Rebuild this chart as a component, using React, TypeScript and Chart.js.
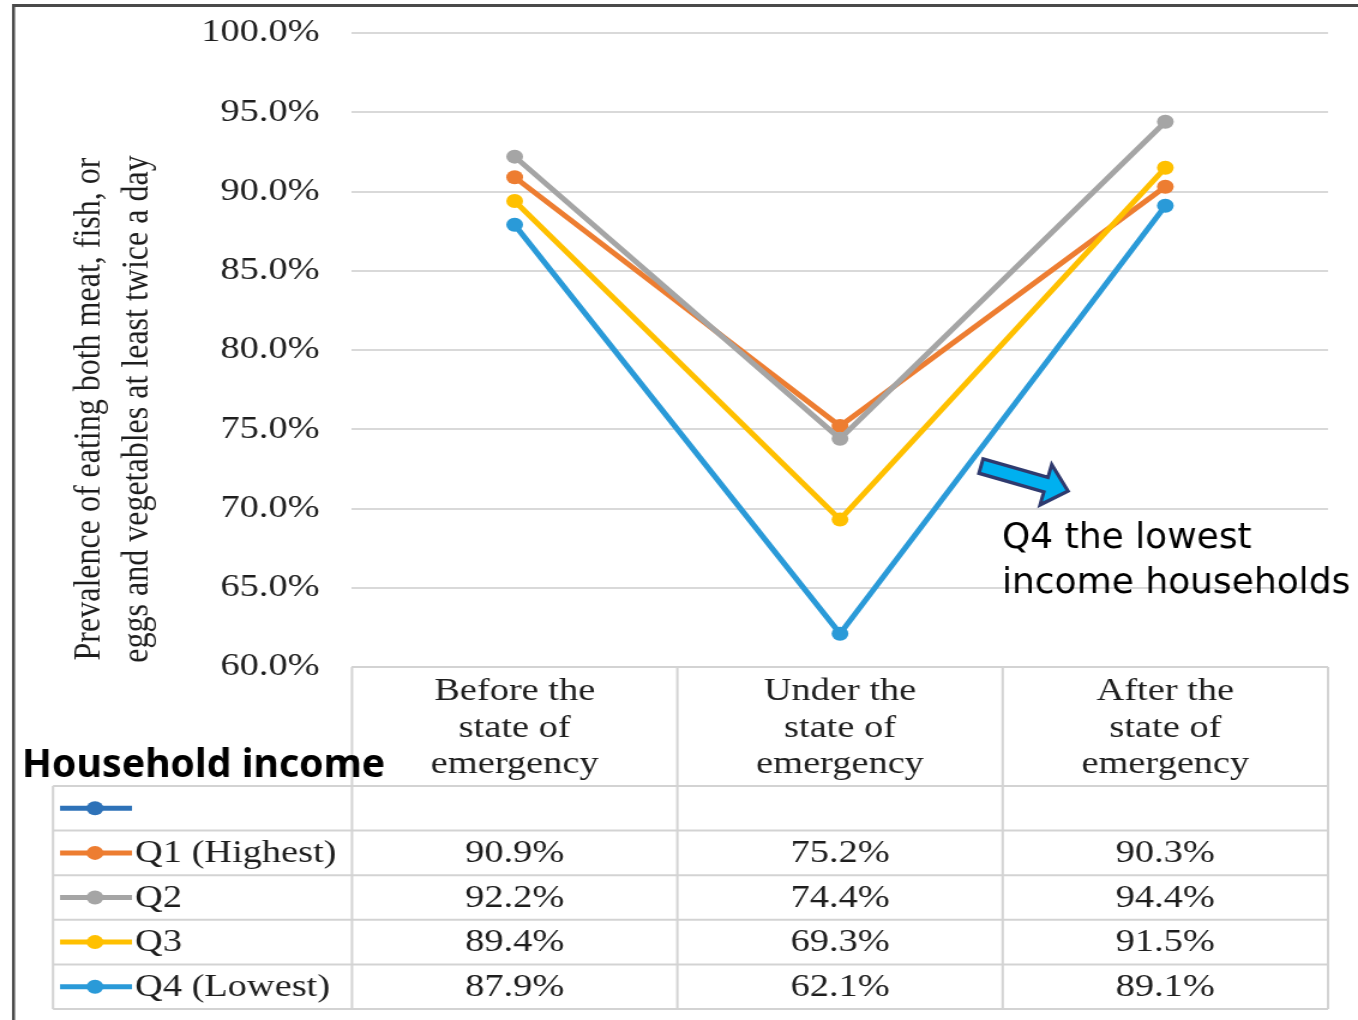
import React, { useEffect, useRef } from "react";
import { Chart, registerables } from "chart.js";

Chart.register(...registerables);

// ---------- data ----------
const categories: string[][] = [
  ["Before the", "state of", "emergency"],
  ["Under the", "state of", "emergency"],
  ["After the", "state of", "emergency"],
];
const seriesNames = ["", "Q1 (Highest)", "Q2", "Q3", "Q4 (Lowest)"];
const blankValues: (number | null)[] = [null, null, null];
const q1Values = [90.9, 75.2, 90.3];
const q2Values = [92.2, 74.4, 94.4];
const q3Values = [89.4, 69.3, 91.5];
const q4Values = [87.9, 62.1, 89.1];
const seriesValues = [blankValues, q1Values, q2Values, q3Values, q4Values];
const seriesColors = ["#2E72B8", "#ED7D31", "#A5A5A5", "#FFC000", "#2A9AD8"];
const yMin = 60;
const yMax = 100;
const yStep = 5;
const yTitleLines = [
  "Prevalence of eating both meat, fish, or",
  "eggs and vegetables at least twice a day",
];
const legendTitle = "Household income";
const noteLines = ["Q4 the lowest", "income households"];

// ---------- layout ----------
const PAGE_W = 1358;
const PAGE_H = 1020;
const CANVAS_W = 1132;
const SX = PAGE_W / CANVAS_W; // horizontal stretch of the original picture
const SERIF = "'Liberation Serif', 'Times New Roman', serif";
const TEXT = "#1e1e1e";
const PLOT_TOP = 33;
const PLOT_BOTTOM = 667;

const yTitlePlugin = {
  id: "yTitle",
  afterDraw(chart: any) {
    const ctx = chart.ctx;
    ctx.save();
    ctx.fillStyle = TEXT;
    ctx.font = `32px ${SERIF}`;
    ctx.textAlign = "center";
    ctx.textBaseline = "middle";
    const xs = [90 / SX, 138 / SX];
    yTitleLines.forEach((line, i) => {
      ctx.save();
      ctx.translate(xs[i], 409);
      ctx.rotate(-Math.PI / 2);
      ctx.fillText(line, 0, 0);
      ctx.restore();
    });
    ctx.restore();
  },
};

const tablePlugin = {
  id: "dataTable",
  afterDraw(chart: any) {
    const ctx = chart.ctx;
    const { left, right, bottom } = chart.chartArea;
    const xScale = chart.scales.x;
    const labels = chart.data.labels as string[][];
    const n = labels.length;
    const colW = (right - left) / n;
    const legendLeft = 53 / SX;
    const headerBottom = 786;
    const rowH = 44.6;
    const datasets = chart.data.datasets;
    const tableBottom = headerBottom + rowH * datasets.length;

    ctx.save();
    ctx.strokeStyle = "#d3d3d3";
    ctx.lineWidth = 2;
    ctx.beginPath();
    ctx.moveTo(left, bottom);
    ctx.lineTo(right, bottom);
    for (let r = 0; r <= datasets.length; r++) {
      const y = headerBottom + r * rowH;
      ctx.moveTo(legendLeft, y);
      ctx.lineTo(right, y);
    }
    ctx.moveTo(legendLeft, headerBottom);
    ctx.lineTo(legendLeft, tableBottom);
    for (let c = 0; c <= n; c++) {
      const x = left + c * colW;
      ctx.moveTo(x, bottom);
      ctx.lineTo(x, tableBottom);
    }
    ctx.stroke();

    // headers
    ctx.fillStyle = TEXT;
    ctx.font = `32px ${SERIF}`;
    ctx.textAlign = "center";
    ctx.textBaseline = "alphabetic";
    labels.forEach((lines, i) => {
      const cx = xScale.getPixelForValue(i);
      lines.forEach((t, j) => ctx.fillText(t, cx, bottom + 33 + j * 36.5));
    });

    // rows
    datasets.forEach((ds: any, r: number) => {
      const top = headerBottom + r * rowH;
      const cy = top + rowH / 2;
      const base = top + 31.5;
      // legend key
      ctx.strokeStyle = ds.borderColor;
      ctx.lineWidth = 5;
      ctx.beginPath();
      ctx.moveTo(60 / SX, cy);
      ctx.lineTo(132 / SX, cy);
      ctx.stroke();
      ctx.fillStyle = ds.borderColor;
      ctx.beginPath();
      ctx.arc(95 / SX, cy, 7, 0, Math.PI * 2);
      ctx.fill();
      ctx.fillStyle = TEXT;
      ctx.textAlign = "left";
      ctx.fillText(ds.label, 135 / SX, base);
      ctx.textAlign = "center";
      ds.data.forEach((v: number | null, i: number) => {
        if (v === null || v === undefined) return;
        ctx.fillText(v.toFixed(1) + "%", xScale.getPixelForValue(i), base);
      });
    });
    ctx.restore();
  },
};

const overlayPlugin = {
  id: "overlay",
  afterDraw(chart: any) {
    const ctx = chart.ctx;
    ctx.save();
    ctx.scale(1 / SX, 1); // draw in page pixels (not stretched)

    // frame
    ctx.strokeStyle = "#4a4a4a";
    ctx.lineWidth = 3;
    ctx.beginPath();
    ctx.moveTo(13.5, PAGE_H);
    ctx.lineTo(13.5, 5.5);
    ctx.lineTo(PAGE_W, 5.5);
    ctx.stroke();

    // legend title
    ctx.fillStyle = "#000";
    ctx.textAlign = "left";
    ctx.textBaseline = "alphabetic";
    ctx.font = `bold 37px 'Noto Sans', sans-serif`;
    const w = ctx.measureText(legendTitle).width;
    const size = (37 * 363) / w;
    ctx.font = `bold ${size.toFixed(1)}px 'Noto Sans', sans-serif`;
    ctx.fillText(legendTitle, 22, 777);

    // note
    ctx.font = `36px 'DejaVu Sans', sans-serif`;
    ctx.fillText(noteLines[0], 1002, 548);
    ctx.fillText(noteLines[1], 1002, 593);

    // arrow
    const T = { x: 981, y: 466 };
    const P = { x: 1068, y: 491 };
    const dx = P.x - T.x, dy = P.y - T.y;
    const L = Math.hypot(dx, dy);
    const d = { x: dx / L, y: dy / L };
    const nrm = { x: -d.y, y: d.x };
    const hw = 7.5, hh = 21, hl = 23;
    const bx = P.x - d.x * hl, by = P.y - d.y * hl;
    ctx.beginPath();
    ctx.moveTo(T.x + nrm.x * hw, T.y + nrm.y * hw);
    ctx.lineTo(bx + nrm.x * hw, by + nrm.y * hw);
    ctx.lineTo(bx + nrm.x * hh, by + nrm.y * hh);
    ctx.lineTo(P.x, P.y);
    ctx.lineTo(bx - nrm.x * hh, by - nrm.y * hh);
    ctx.lineTo(bx - nrm.x * hw, by - nrm.y * hw);
    ctx.lineTo(T.x - nrm.x * hw, T.y - nrm.y * hw);
    ctx.closePath();
    ctx.fillStyle = "#00B0F0";
    ctx.fill();
    ctx.strokeStyle = "#2F3A6E";
    ctx.lineWidth = 3.5;
    ctx.lineJoin = "miter";
    ctx.stroke();
    ctx.restore();
  },
};

export default function App() {
  const ref = useRef<HTMLCanvasElement | null>(null);

  useEffect(() => {
    const canvas = ref.current;
    if (!canvas) return;
    const chart = new Chart(canvas, {
      type: "line",
      data: {
        labels: categories,
        datasets: seriesNames.map((name, i) => ({
          label: name,
          data: seriesValues[i],
          borderColor: seriesColors[i],
          backgroundColor: seriesColors[i],
          pointBackgroundColor: seriesColors[i],
          pointBorderWidth: 0,
          pointRadius: 7,
          borderWidth: 5,
          fill: false,
          tension: 0,
          order: 10 - i,
        })),
      },
      options: {
        animation: false,
        responsive: false,
        devicePixelRatio: 1,
        events: [],
        layout: {
          padding: {
            left: 0,
            right: CANVAS_W - 1328 / SX,
            top: PLOT_TOP,
            bottom: PAGE_H - PLOT_BOTTOM,
          },
        },
        plugins: {
          legend: { display: false },
          tooltip: { enabled: false },
          title: { display: false },
        },
        scales: {
          x: {
            type: "category",
            offset: true,
            display: false,
          },
          y: {
            min: yMin,
            max: yMax,
            afterFit: (s: any) => {
              s.width = 352 / SX;
              s.paddingTop = 0;
              s.paddingBottom = 0;
            },
            ticks: {
              stepSize: yStep,
              padding: 27,
              color: TEXT,
              font: { family: SERIF, size: 32 },
              callback: (v: any) => Number(v).toFixed(1) + "%",
            },
            grid: { color: "#d9d9d9", lineWidth: 2, drawTicks: false },
            border: { display: false },
          },
        },
      },
      plugins: [yTitlePlugin, tablePlugin, overlayPlugin],
    } as any);
    return () => chart.destroy();
  }, []);

  return (
    <div
      style={{
        position: "absolute",
        left: 0,
        top: 0,
        width: PAGE_W,
        height: PAGE_H,
        overflow: "hidden",
        background: "#fff",
      }}
    >
      <canvas
        ref={ref}
        width={CANVAS_W}
        height={PAGE_H}
        style={{ display: "block", transform: `scaleX(${SX})`, transformOrigin: "0 0" }}
      />
    </div>
  );
}
